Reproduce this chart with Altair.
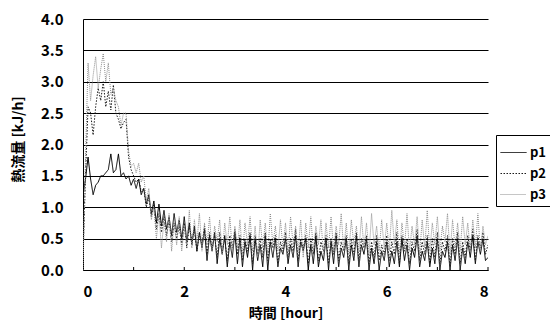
import altair as alt
import pandas as pd

series_names = ["p1", "p2", "p3"]
time_step = 0.05  # hours between samples

p1 = [
    1.20, 1.45, 1.80, 1.45, 1.20, 1.35, 1.40, 1.50, 1.50, 1.55,
    1.60, 1.85, 1.55, 1.60, 1.85, 1.50, 1.55, 1.45, 1.50, 1.35,
    1.45, 1.30, 1.45, 1.20, 1.30, 1.05, 1.20, 0.90, 1.10, 0.75,
    1.05, 0.70, 0.95, 0.65, 0.85, 0.55, 0.90, 0.60, 0.80, 0.50,
    0.85, 0.45, 0.75, 0.40, 0.70, 0.30, 0.60, 0.35, 0.65, 0.15,
    0.55, 0.30, 0.60, 0.10, 0.50, 0.25, 0.55, 0.05, 0.45, 0.20,
    0.60, 0.10, 0.50, 0.05, 0.45, 0.20, 0.55, 0.00, 0.50, 0.15,
    0.40, 0.05, 0.55, 0.00, 0.45, 0.20, 0.50, 0.05, 0.35, 0.25,
    0.50, 0.10, 0.40, 0.20, 0.55, 0.05, 0.45, 0.30, 0.50, 0.00,
    0.40, 0.10, 0.55, 0.05, 0.30, 0.15, 0.50, 0.00, 0.45, 0.10,
    0.55, 0.05, 0.35, 0.20, 0.50, 0.00, 0.40, 0.15, 0.55, 0.05,
    0.40, 0.25, 0.50, 0.00, 0.35, 0.10, 0.45, 0.00, 0.30, 0.15,
    0.45, 0.05, 0.30, 0.10, 0.45, 0.05, 0.50, 0.15, 0.40, 0.00,
    0.35, 0.20, 0.55, 0.05, 0.30, 0.15, 0.45, 0.05, 0.35, 0.10,
    0.50, 0.00, 0.30, 0.20, 0.45, 0.00, 0.40, 0.15, 0.50, 0.00,
    0.35, 0.10, 0.45, 0.20, 0.55, 0.10, 0.45, 0.25, 0.50, 0.15,
    0.20,
]

p2 = [
    0.20, 1.50, 2.60, 2.50, 2.15, 2.60, 2.90, 2.70, 3.00, 2.60,
    2.85, 2.55, 2.95, 2.50, 2.40, 2.25, 2.35, 2.40, 1.80, 1.60,
    1.50, 1.40, 1.45, 1.25, 1.30, 1.00, 1.15, 0.85, 1.05, 0.65,
    0.90, 0.60, 0.85, 0.55, 0.80, 0.45, 0.75, 0.50, 0.70, 0.40,
    0.75, 0.35, 0.70, 0.45, 0.65, 0.30, 0.60, 0.40, 0.70, 0.25,
    0.60, 0.35, 0.55, 0.20, 0.60, 0.30, 0.50, 0.15, 0.55, 0.35,
    0.65, 0.25, 0.55, 0.15, 0.50, 0.30, 0.60, 0.10, 0.55, 0.25,
    0.50, 0.20, 0.60, 0.15, 0.50, 0.35, 0.55, 0.10, 0.45, 0.30,
    0.60, 0.20, 0.50, 0.30, 0.65, 0.15, 0.50, 0.35, 0.55, 0.10,
    0.50, 0.25, 0.60, 0.15, 0.45, 0.30, 0.55, 0.10, 0.50, 0.25,
    0.60, 0.15, 0.45, 0.30, 0.55, 0.10, 0.50, 0.25, 0.60, 0.15,
    0.50, 0.35, 0.55, 0.10, 0.45, 0.20, 0.55, 0.15, 0.40, 0.25,
    0.55, 0.15, 0.45, 0.25, 0.60, 0.10, 0.55, 0.30, 0.50, 0.10,
    0.45, 0.30, 0.65, 0.15, 0.45, 0.25, 0.55, 0.10, 0.50, 0.20,
    0.60, 0.10, 0.45, 0.30, 0.55, 0.05, 0.50, 0.25, 0.60, 0.10,
    0.45, 0.20, 0.55, 0.30, 0.65, 0.15, 0.55, 0.35, 0.60, 0.25,
    0.40,
]

p3 = [
    0.00, 1.80, 3.30, 2.70, 3.10, 3.40, 2.90, 3.20, 3.45, 3.00,
    3.30, 2.80, 2.90, 2.70, 2.60, 2.30, 2.50, 2.50, 1.90, 1.65,
    1.70, 1.55, 1.70, 1.40, 1.50, 1.10, 1.30, 0.80, 1.00, 0.50,
    0.90, 0.35, 0.80, 0.45, 0.90, 0.30, 0.75, 0.40, 0.85, 0.30,
    0.70, 0.40, 0.95, 0.35, 0.80, 0.45, 0.90, 0.30, 0.75, 0.40,
    0.85, 0.30, 0.70, 0.45, 0.80, 0.25, 0.75, 0.40, 0.85, 0.30,
    0.70, 0.35, 0.80, 0.25, 0.75, 0.40, 0.85, 0.30, 0.70, 0.20,
    0.80, 0.35, 0.75, 0.25, 0.90, 0.40, 0.70, 0.30, 0.80, 0.35,
    0.75, 0.25, 0.85, 0.40, 0.70, 0.30, 0.80, 0.20, 0.75, 0.35,
    0.85, 0.30, 0.70, 0.40, 0.80, 0.25, 0.75, 0.35, 0.85, 0.30,
    0.70, 0.40, 0.90, 0.30, 0.75, 0.25, 0.80, 0.40, 0.70, 0.30,
    0.85, 0.35, 0.75, 0.25, 0.90, 0.40, 0.70, 0.30, 0.80, 0.35,
    0.75, 0.30, 0.95, 0.40, 0.80, 0.25, 0.75, 0.35, 0.90, 0.30,
    0.70, 0.40, 0.85, 0.25, 0.80, 0.35, 0.95, 0.30, 0.75, 0.40,
    0.85, 0.30, 0.70, 0.45, 0.90, 0.25, 0.80, 0.35, 0.75, 0.30,
    0.85, 0.40, 0.75, 0.30, 0.80, 0.35, 0.90, 0.30, 0.70, 0.40,
    0.55,
]

y_ticks = [0.0, 0.5, 1.0, 1.5, 2.0, 2.5, 3.0, 3.5, 4.0]
x_labels = [0, 2, 4, 6, 8]
x_minor = [1, 2, 3, 4, 5, 6, 7, 8]

rows = []
for name, vals in zip(series_names, [p1, p2, p3]):
    for i, v in enumerate(vals):
        rows.append({"time": round(i * time_step, 3), "value": v, "series": name})
df = pd.DataFrame(rows)

W, H = 405, 251
FONT = "Noto Sans CJK JP"

legend_opts = dict(title=None, orient="none", legendX=413, legendY=116,
                   strokeColor="#000", padding=4, symbolType="stroke",
                   symbolSize=676, symbolStrokeWidth=1, labelFontSize=13,
                   labelColor="#000", labelFont=FONT, labelFontWeight="bold",
                   rowPadding=0, labelOffset=3)

lines = alt.Chart(df).mark_line(strokeWidth=1, clip=True).encode(
    x=alt.X("time:Q", scale=alt.Scale(domain=[0, 8], nice=False),
            axis=alt.Axis(values=x_labels, format="d", title="時間 [hour]",
                          grid=False, ticks=False, domainColor="#000",
                          labelPadding=14, labelFontSize=15, labelColor="#000",
                          labelFontWeight="bold",
                          titleFontSize=14, titleColor="#000",
                          titleFontWeight="bold", titleX=W / 2, titleY=43,
                          titleBaseline="middle")),
    y=alt.Y("value:Q", scale=alt.Scale(domain=[0, 4], nice=False),
            axis=alt.Axis(values=y_ticks, format=".1f", title="熱流量 [kJ/h]",
                          grid=True, gridColor="#000", gridWidth=1,
                          ticks=False, domainColor="#000",
                          labelPadding=20, labelFontSize=15, labelColor="#000",
                          labelFontWeight="bold",
                          titleFontSize=14, titleColor="#000",
                          titleFontWeight="bold", titleX=-65, titleY=120,
                          titleAlign="center", titleBaseline="middle",
                          titleAngle=-90)),
    color=alt.Color("series:N",
                    scale=alt.Scale(domain=series_names,
                                    range=["#000000", "#1a1a1a", "#8c8c8c"]),
                    legend=alt.Legend(**legend_opts)),
    strokeDash=alt.StrokeDash("series:N",
                              scale=alt.Scale(domain=series_names,
                                              range=[[1, 0], [1.5, 1.5], [1, 1]]),
                              legend=alt.Legend(**legend_opts)),
)

minor = alt.Chart(pd.DataFrame({"t": x_minor})).mark_rule(
    color="#000", strokeWidth=1).encode(
    x=alt.X("t:Q", scale=alt.Scale(domain=[0, 8], nice=False)),
    y=alt.value(H), y2=alt.value(H - 3))

chart = alt.layer(lines, minor).properties(
    width=W, height=H,
    autosize=alt.AutoSizeParams(type="none"),
    padding={"left": 75, "top": 11, "right": 62, "bottom": 51},
).configure(font=FONT).configure_view(stroke=None).configure_axis(
    labelFont=FONT, titleFont=FONT, domainWidth=1)

chart.save("out.html", embed_options={"renderer": "svg", "actions": False})
